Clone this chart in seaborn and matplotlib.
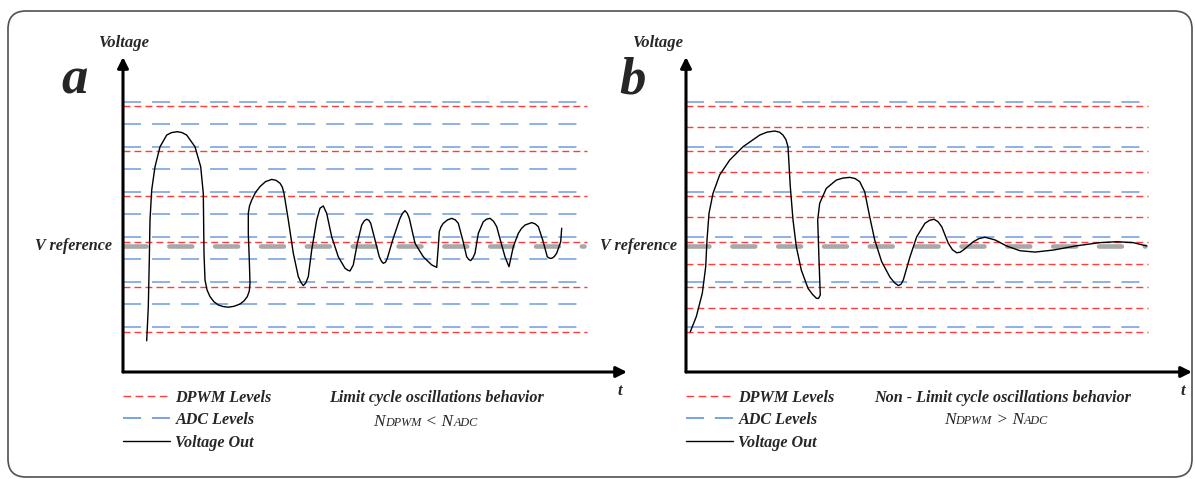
import numpy as np
import pandas as pd
import matplotlib
matplotlib.use("Agg")
import matplotlib.pyplot as plt
from matplotlib.lines import Line2D
from matplotlib.patches import FancyBboxPatch
from matplotlib.offsetbox import TextArea, HPacker, AnchoredOffsetbox
import seaborn as sns

# quantization levels (in units of one fine step, V reference = 0)
adc_a = [6.42, 5.42, 4.42, 3.42, 2.42, 1.42, 0.42, -0.58, -1.58, -2.58, -3.58]
dpwm_a = [6.22, 4.22, 2.22, 0.2, -1.8, -3.8]
adc_b = [6.42, 4.42, 2.42, 0.42, -1.58, -3.58]
dpwm_b = [6.22, 5.3, 4.22, 3.3, 2.22, 1.3, 0.2, -0.8, -1.8, -2.74, -3.8]
v_ref = 0.0

# voltage out, panel a (limit cycle)
t_a = [23.7, 25.3, 26.3, 27.0, 28.7, 32.0, 37.0, 43.7, 48.5, 54.3, 59.0, 63.7, 72.0, 77.7,
       80.3, 81.0, 82.0, 84.0, 87.0, 91.0, 95.3, 100.0, 105.3, 111.0, 117.0, 121.0, 124.3,
       126.3, 127.0, 126.3, 125.3, 125.3, 126.5, 128.7, 132.5, 137.0, 142.5, 148.7, 153.0,
       157.0, 159.3, 161.0, 165.3, 170.3, 175.3, 178.0, 180.3, 182.8, 185.3, 188.7, 193.7,
       197.0, 200.3, 203.7, 208.7, 215.3, 222.0, 225.0, 227.0, 230.3, 234.3, 238.7, 241.3,
       243.7, 245.9, 247.7, 252.0, 256.3, 258.5, 260.3, 262.5, 264.3, 269.7, 277.0, 279.5,
       282.0, 284.3, 286.3, 292.0, 300.3, 308.7, 313.7, 315.3, 316.3, 318.0, 320.3, 324.5,
       328.7, 332.3, 335.3, 339.7, 343.7, 345.8, 347.7, 350.0, 352.0, 355.3, 360.3, 363.5,
       367.0, 370.5, 373.7, 378.7, 382.0, 386.0, 390.3, 395.3, 398.5, 402.0, 408.7, 412.3,
       415.3, 419.7, 424.3, 426.5, 428.7, 431.3, 433.7, 437.7, 438.7]
v_a = [-4.21, -2.70, -0.62, 1.16, 2.49, 3.52, 4.41, 4.93, 5.04, 5.08, 5.04, 4.93, 4.41, 3.52,
       2.34, -0.32, -1.51, -1.95, -2.25, -2.48, -2.62, -2.69, -2.72, -2.68, -2.58, -2.44, -2.25,
       -2.0, -1.66, -0.62, 0.56, 1.45, 1.78, 2.04, 2.38, 2.64, 2.86, 2.96, 2.92,
       2.79, 2.62, 2.34, 1.16, -0.32, -1.36, -1.62, -1.76, -1.64, -1.36, -0.18, 1.16,
       1.68, 1.78, 1.45, 0.41, -0.48, -0.99, -1.08, -1.11, -0.84, 0.12, 0.93, 1.12,
       1.19, 1.14, 1.01, 0.27, -0.48, -0.68, -0.77, -0.72, -0.55, 0.27, 1.23, 1.45,
       1.57, 1.45, 1.23, 0.12, -0.48, -0.84, -0.95, -0.03, 0.64, 0.85, 1.01, 1.16,
       1.23, 1.16, 1.01, 0.27, -0.48, -0.6, -0.65, -0.52, -0.32, 0.56, 1.08, 1.19,
       1.23, 1.1, 0.86, 0.04, -0.48, -0.92, -0.03, 0.56, 0.78, 0.93, 1.04, 0.98,
       0.86, 0.27, -0.48, -0.54, -0.55, -0.47, -0.32, 0.19, 0.79]

# voltage out, panel b (no limit cycle)
t_b = [4.3, 10.3, 16.3, 19.7, 21.0, 23.0, 27.0, 33.7, 43.7, 57.0, 73.7, 81.0, 88.7, 93.5,
       97.0, 100.0, 102.0, 104.3, 107.0, 110.3, 115.3, 122.0, 126.5, 130.3, 132.5, 134.3,
       133.0, 131.7, 133.7, 140.3, 150.3, 157.0, 163.7, 169.0, 173.7, 178.7, 183.7, 188.7,
       195.7, 204.0, 208.5, 212.3, 215.0, 217.3, 224.0, 230.7, 239.0, 243.5, 248.0, 252.0,
       255.7, 262.3, 266.5, 270.7, 274.0, 277.3, 287.3, 293.0, 299.0, 309.0, 320.7, 334.0,
       349.0, 367.3, 390.7, 414.0, 430.7, 447.3, 460.7]
v_b = [-3.81, -3.14, -2.10, -0.92, 0.27, 1.45, 2.34, 3.16, 3.82, 4.41, 4.93, 5.06, 5.11, 5.06,
       4.93, 4.72, 4.41, 2.64, 1.16, -0.03, -1.07, -1.88, -2.15, -2.32, -2.33, -2.18,
       -0.62, 1.16, 1.90, 2.56, 2.93, 3.02, 3.05, 3.0, 2.86, 2.41, 1.30, 0.27,
       -0.70, -1.39, -1.63, -1.76, -1.7, -1.51, -0.48, 0.41, 1.01, 1.14, 1.19, 1.08,
       0.86, 0.12, -0.17, -0.30, -0.28, -0.18, 0.19, 0.33, 0.39, 0.27, 0.0, -0.21,
       -0.27, -0.18, 0.01, 0.15, 0.19, 0.15, 0.0]

RED = "#ff3b3b"
BLUE = "#6d9be3"
GRAY = "#a8a8a8"
red_dash = (0, (5, 2.9))
blue_dash = (0, (11.8, 7.2))
gray_dash = (0, (5.0, 5.0))

sns.set_theme(style="white")
plt.rcParams["font.family"] = ["Liberation Serif", "DejaVu Serif"]
bi = dict(family="Liberation Serif", weight="bold", style="italic")

fig = plt.figure(figsize=(11.95, 4.79), dpi=100)

# rounded frame around everything (pixel coordinates)
bg = fig.add_axes([0, 0, 1, 1])
bg.set_xlim(0, 1195)
bg.set_ylim(479, 0)
bg.axis("off")
bg.add_patch(FancyBboxPatch((8, 11), 1184, 466, boxstyle="round,pad=0,rounding_size=18",
                            fill=False, edgecolor="#505050", lw=1.2))

W, H = 1195, 479
panels = [
    dict(left=123, right=627, letter="a", adc=adc_a, dpwm=dpwm_a, t=t_a, v=v_a, xend=464,
         title="Limit cycle oscillations behavior", rel=" < ", title_x=0.623, rel_x=0.60,
         rel_y=-0.16, volt_x=124, let_x=75, vref_x=112, t_x=620),
    dict(left=686, right=1192, letter="b", adc=adc_b, dpwm=dpwm_b, t=t_b, v=v_b, xend=462,
         title="Non - Limit cycle oscillations behavior", rel=" > ", title_x=0.626, rel_x=0.613,
         rel_y=-0.153, volt_x=658, let_x=632, vref_x=677, t_x=1183),
]

bottom_px, top_px = 372, 57
for p in panels:
    ax = fig.add_axes([p["left"] / W, (H - bottom_px) / H, (p["right"] - p["left"]) / W,
                       (bottom_px - top_px) / H])
    ax.set_xlim(0, p["right"] - p["left"])
    ax.set_ylim(-5.6, 8.4)
    ax.axis("off")

    ax.hlines(p["adc"], 0, p["xend"] - 4, colors=BLUE, lw=1.1, linestyles=[blue_dash])
    ax.hlines(p["dpwm"], 0, p["xend"], colors=RED, lw=1.0, linestyles=[red_dash])
    ax.plot([0, p["xend"] - 3], [v_ref, v_ref], color=GRAY, lw=3.3, linestyle=gray_dash,
            dash_capstyle="round")

    df = pd.DataFrame({"t": p["t"], "v": p["v"]})
    sns.lineplot(data=df, x="t", y="v", sort=False, estimator=None, color="black", lw=1.0, ax=ax)

    # axes with arrows
    arrow = dict(arrowstyle="-|>", lw=2.2, color="black", mutation_scale=16, shrinkA=0, shrinkB=0)
    ax.annotate("", xy=(0, 1), xytext=(0, 0), xycoords="axes fraction", arrowprops=arrow)
    ax.annotate("", xy=(1, 0), xytext=(0, 0), xycoords="axes fraction", arrowprops=arrow)

    # labels
    fig.text(p["volt_x"] / W, 1 - 43 / H, "Voltage", ha="center", va="center", fontsize=12, **bi)
    fig.text(p["let_x"] / W, 1 - 80 / H, p["letter"], ha="center", va="center", fontsize=38, **bi)
    fig.text(p["vref_x"] / W, 1 - 246 / H, "V reference", ha="right", va="center", fontsize=11.6, **bi)
    fig.text(p["t_x"] / W, 1 - 391 / H, "t", ha="center", va="center", fontsize=12, **bi)

    handles = [Line2D([], [], color=RED, lw=1.0, linestyle=(0, (5.5, 3.2))),
               Line2D([], [], color=BLUE, lw=1.3, linestyle=(0, (10, 6))),
               Line2D([], [], color="black", lw=1.0)]
    ax.legend(handles, ["DPWM Levels", "ADC Levels", "Voltage Out"], loc="upper left",
              bbox_to_anchor=(0, -0.056), frameon=False, handlelength=2.9, handletextpad=0.35,
              labelspacing=0.4, borderpad=0, borderaxespad=0,
              prop=dict(family="Liberation Serif", weight="bold", style="italic", size=11.6))

    ax.text(p["title_x"], -0.082, p["title"], transform=ax.transAxes, ha="center", va="center",
            fontsize=11.6, **bi)

    it = dict(family="Liberation Serif", style="italic")
    parts = [TextArea("N", textprops=dict(size=12.5, **it)),
             TextArea("DPWM", textprops=dict(size=8.7, **it)),
             TextArea(p["rel"] + "N", textprops=dict(size=12.5, **it)),
             TextArea("ADC", textprops=dict(size=8.7, **it))]
    box = HPacker(children=parts, align="baseline", pad=0, sep=0)
    anch = AnchoredOffsetbox(loc="center", child=box, frameon=False, pad=0, borderpad=0,
                             bbox_to_anchor=(p["rel_x"], p["rel_y"]), bbox_transform=ax.transAxes)
    ax.add_artist(anch)

fig.savefig("out.png", dpi=100)
